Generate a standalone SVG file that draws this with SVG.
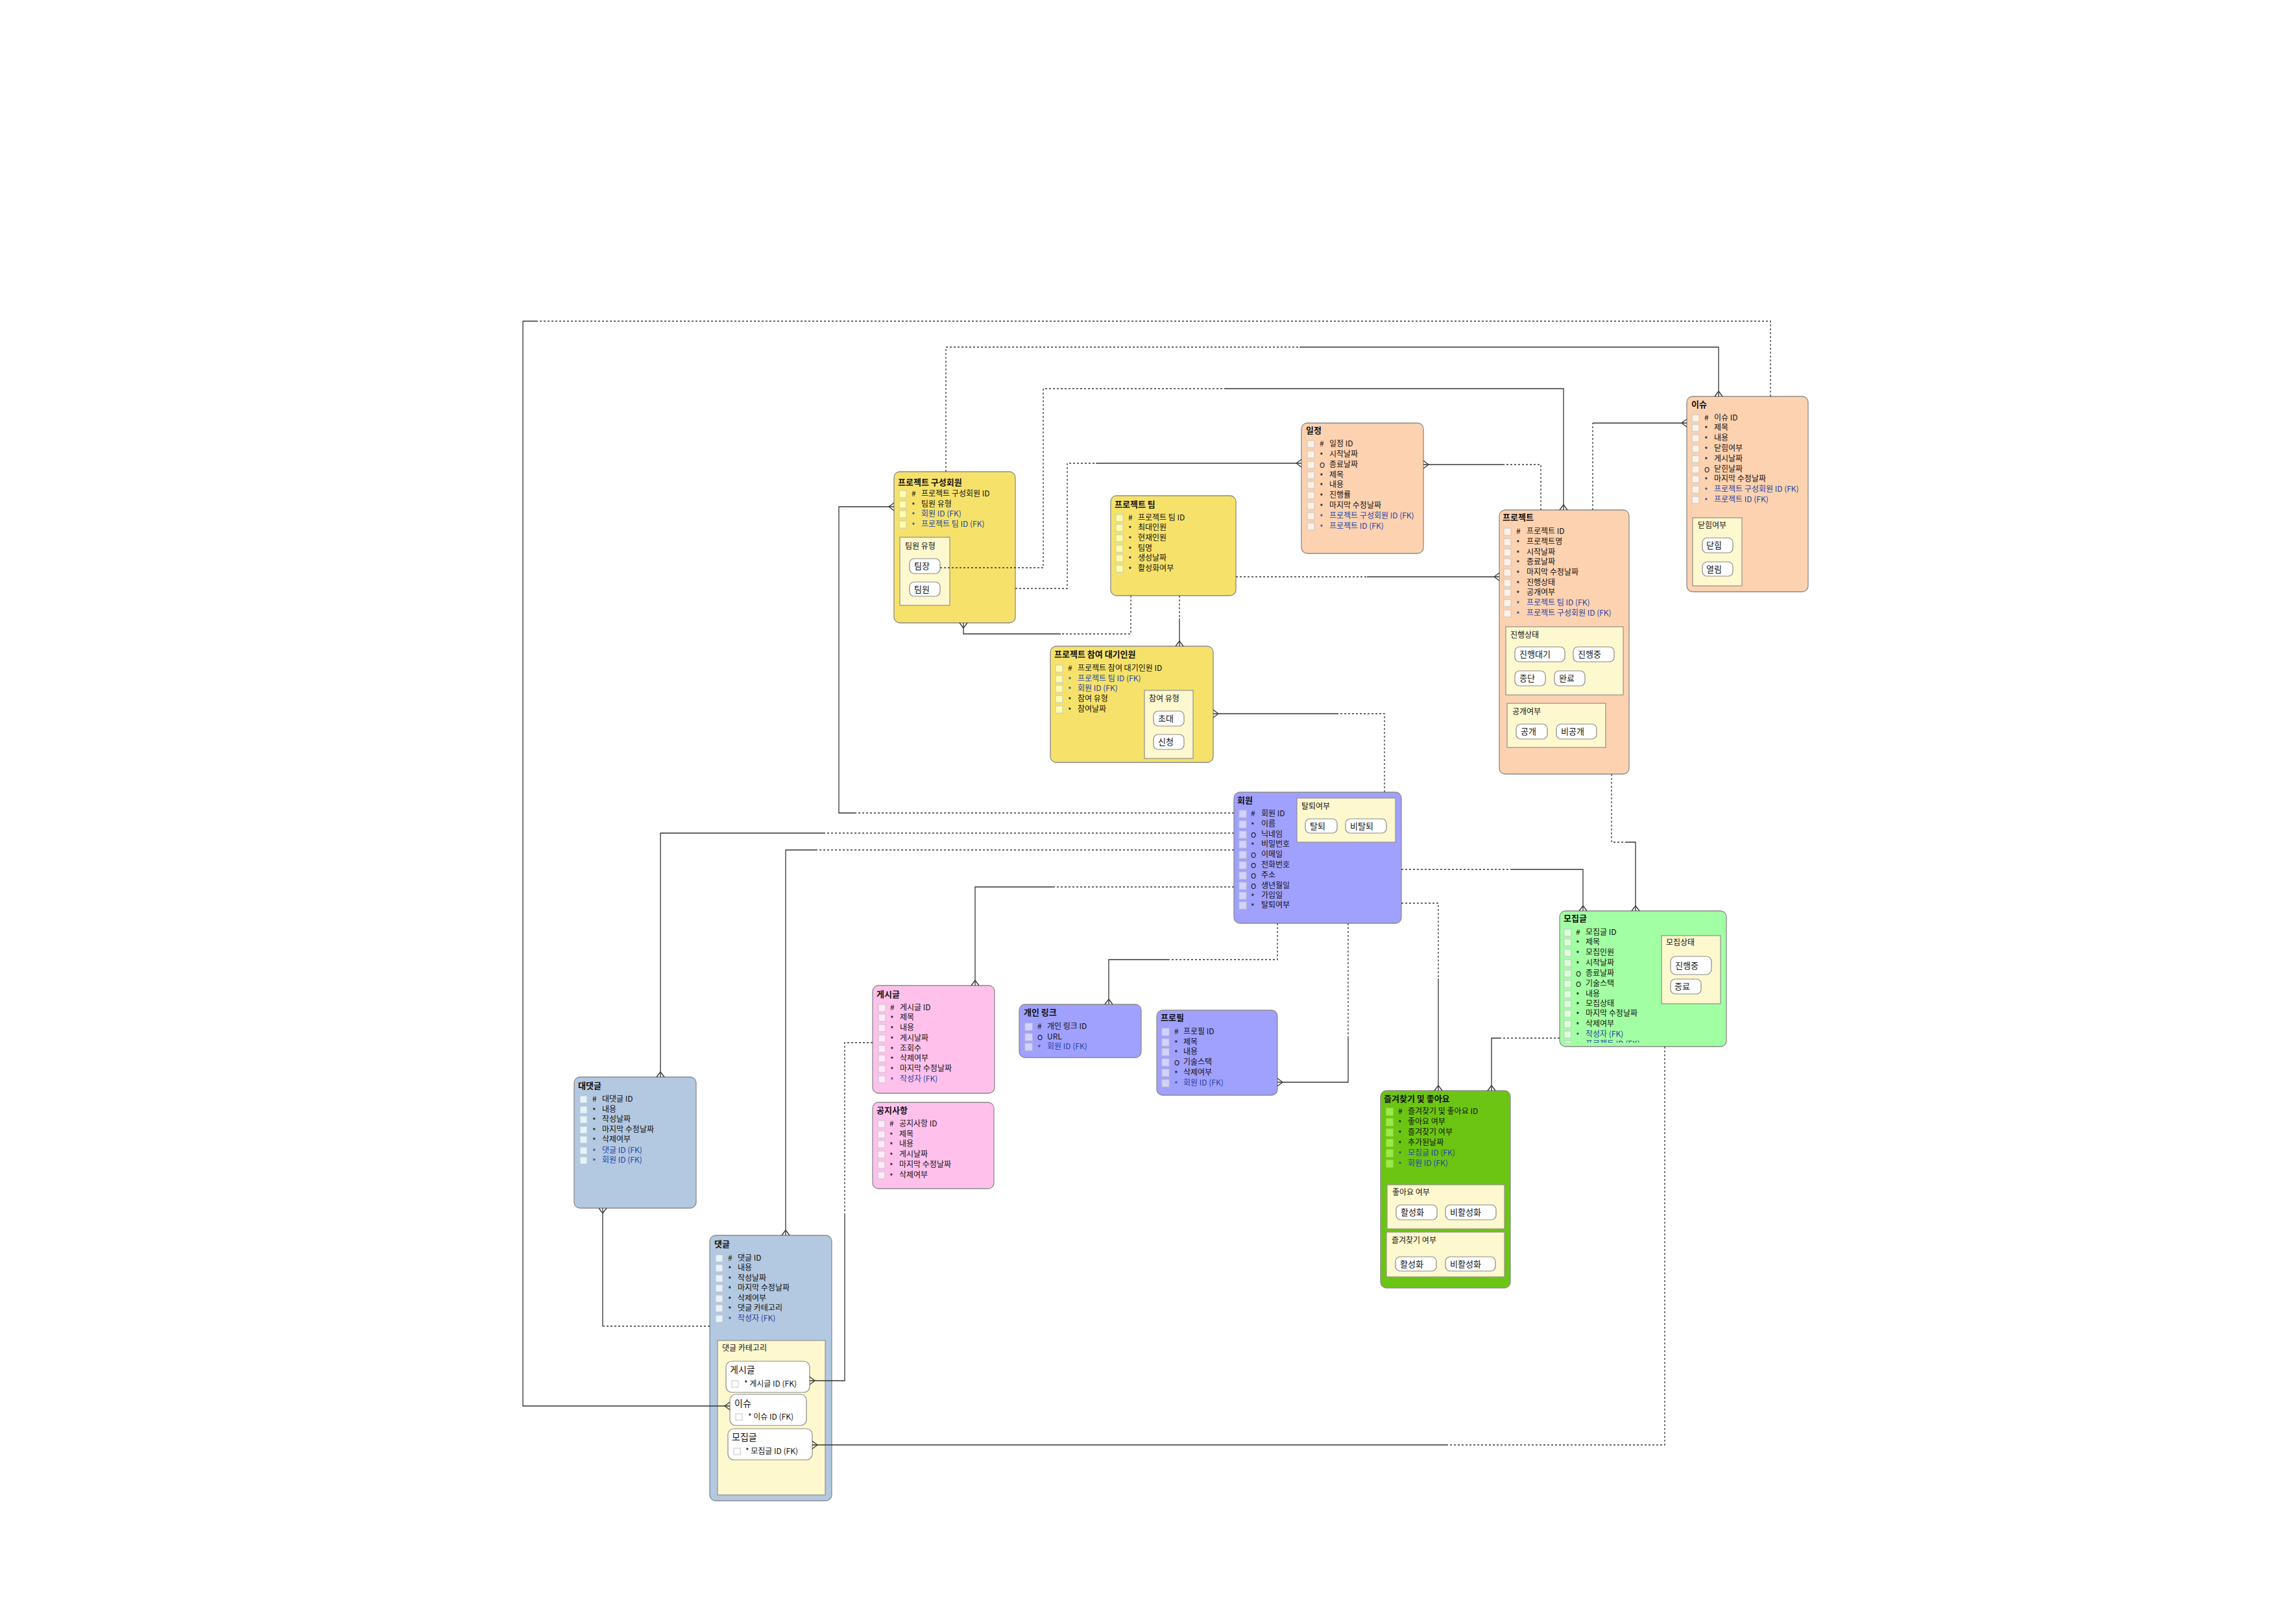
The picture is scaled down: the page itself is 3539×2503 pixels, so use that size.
<svg xmlns="http://www.w3.org/2000/svg" width="3539" height="2503" viewBox="0 0 3539 2503">
<style>
text{font-family:"Noto Sans CJK KR","Noto Sans",sans-serif;fill:#111}
.t{font-size:13px;font-weight:bold}
.r{font-size:12px}
.o{font-size:11px}
.a{transform:translateY(3px)}
.fk{fill:#2446a6}
.p{font-size:13px}
.ent{stroke:#8a8a8a;stroke-width:1.3}
.cy{fill:#F6E26B}.cp{fill:#FDD2B0}.cv{fill:#A0A0FF}.cg{fill:#A3FFA3}.ck{fill:#FFC1EC}.cb{fill:#B3C8E1}.cd{fill:#6CC512}
.sub{fill:#FEF8CE;stroke:#8f8f8f;stroke-width:1.2}
.pill{fill:#fff;stroke:#8a8a8a;stroke-width:1.2}
.bx{stroke:#c4c4c4;stroke-width:1}
.by{fill:#FFFFA8}.bp{fill:#FFF1E4}.bv{fill:#D2D2FF}.bg{fill:#DAFFDA}.bk{fill:#FFE9FA}.bb{fill:#E4F4FF}.bd{fill:#9DE84A;stroke:#9DE84A}.bw{fill:#fff}
.c path{fill:none;stroke:#333;stroke-width:1.3}
.d{stroke-dasharray:3 3}
</style>
<defs>
<marker id="cf" markerUnits="userSpaceOnUse" viewBox="-10 -8 11 16" markerWidth="11" markerHeight="16" refX="0" refY="0" orient="auto" overflow="visible">
<path d="M-8,0 L0,-6 M-8,0 L0,6" fill="none" stroke="#333" stroke-width="1.3"/>
</marker>
<clipPath id="clipMo"><rect x="2404" y="1404" width="257" height="203"/></clipPath>
</defs>

<g id="project-member">
<rect class="ent cy" x="1378" y="727" width="187" height="233" rx="9"/>
<text class="t" x="1384" y="748">프로젝트 구성회원</text>
<rect class="bx by" x="1386" y="756" width="11" height="11"/><text class="r" x="1405" y="765">#</text><text class="r" x="1420" y="765">프로젝트 구성회원 ID</text>
<rect class="bx by" x="1386" y="772" width="11" height="11"/><text class="r a" x="1405" y="781">*</text><text class="r" x="1420" y="781">팀원 유형</text>
<rect class="bx by" x="1386" y="787" width="11" height="11"/><text class="r fk a" x="1405" y="796">*</text><text class="r fk" x="1420" y="796">회원 ID (FK)</text>
<rect class="bx by" x="1386" y="803" width="11" height="11"/><text class="r fk a" x="1405" y="812">*</text><text class="r fk" x="1420" y="812">프로젝트 팀 ID (FK)</text>
<rect class="sub" x="1387" y="828" width="77" height="105"/>
<text class="r" x="1395" y="846">팀원 유형</text>
<rect class="pill" x="1402" y="861" width="47" height="23" rx="7"/><text class="p" x="1409" y="877">팀장</text>
<rect class="pill" x="1402" y="897" width="47" height="22" rx="7"/><text class="p" x="1409" y="913">팀원</text>
</g>

<g id="project-team">
<rect class="ent cy" x="1712" y="764" width="193" height="154" rx="9"/>
<text class="t" x="1718" y="782">프로젝트 팀</text>
<rect class="bx by" x="1720" y="793" width="11" height="11"/><text class="r" x="1739" y="802">#</text><text class="r" x="1754" y="802">프로젝트 팀 ID</text>
<rect class="bx by" x="1720" y="808" width="11" height="11"/><text class="r a" x="1739" y="817">*</text><text class="r" x="1754" y="817">최대인원</text>
<rect class="bx by" x="1720" y="824" width="11" height="11"/><text class="r a" x="1739" y="833">*</text><text class="r" x="1754" y="833">현재인원</text>
<rect class="bx by" x="1720" y="840" width="11" height="11"/><text class="r a" x="1739" y="849">*</text><text class="r" x="1754" y="849">팀명</text>
<rect class="bx by" x="1720" y="855" width="11" height="11"/><text class="r a" x="1739" y="864">*</text><text class="r" x="1754" y="864">생성날짜</text>
<rect class="bx by" x="1720" y="871" width="11" height="11"/><text class="r a" x="1739" y="880">*</text><text class="r" x="1754" y="880">활성화여부</text>
</g>

<g id="schedule">
<rect class="ent cp" x="2006" y="652" width="188" height="201" rx="9"/>
<text class="t" x="2013" y="668">일정</text>
<rect class="bx bp" x="2015" y="679" width="11" height="11"/><text class="r" x="2034" y="688">#</text><text class="r" x="2049" y="688">일정 ID</text>
<rect class="bx bp" x="2015" y="695" width="11" height="11"/><text class="r a" x="2034" y="704">*</text><text class="r" x="2049" y="704">시작날짜</text>
<rect class="bx bp" x="2015" y="711" width="11" height="11"/><text class="o" x="2034" y="721">O</text><text class="r" x="2049" y="720">종료날짜</text>
<rect class="bx bp" x="2015" y="727" width="11" height="11"/><text class="r a" x="2034" y="736">*</text><text class="r" x="2049" y="736">제목</text>
<rect class="bx bp" x="2015" y="742" width="11" height="11"/><text class="r a" x="2034" y="751">*</text><text class="r" x="2049" y="751">내용</text>
<rect class="bx bp" x="2015" y="758" width="11" height="11"/><text class="r a" x="2034" y="767">*</text><text class="r" x="2049" y="767">진행률</text>
<rect class="bx bp" x="2015" y="774" width="11" height="11"/><text class="r a" x="2034" y="783">*</text><text class="r" x="2049" y="783">마지막 수정날짜</text>
<rect class="bx bp" x="2015" y="790" width="11" height="11"/><text class="r fk a" x="2034" y="799">*</text><text class="r fk" x="2049" y="799">프로젝트 구성회원 ID (FK)</text>
<rect class="bx bp" x="2015" y="806" width="11" height="11"/><text class="r fk a" x="2034" y="815">*</text><text class="r fk" x="2049" y="815">프로젝트 ID (FK)</text>
</g>

<g id="issue">
<rect class="ent cp" x="2600" y="611" width="187" height="301" rx="9"/>
<text class="t" x="2607" y="628">이슈</text>
<rect class="bx bp" x="2608" y="639" width="11" height="11"/><text class="r" x="2627" y="648">#</text><text class="r" x="2642" y="648">이슈 ID</text>
<rect class="bx bp" x="2608" y="654" width="11" height="11"/><text class="r a" x="2627" y="663">*</text><text class="r" x="2642" y="663">제목</text>
<rect class="bx bp" x="2608" y="670" width="11" height="11"/><text class="r a" x="2627" y="679">*</text><text class="r" x="2642" y="679">내용</text>
<rect class="bx bp" x="2608" y="686" width="11" height="11"/><text class="r a" x="2627" y="695">*</text><text class="r" x="2642" y="695">닫힘여부</text>
<rect class="bx bp" x="2608" y="702" width="11" height="11"/><text class="r a" x="2627" y="711">*</text><text class="r" x="2642" y="711">게시날짜</text>
<rect class="bx bp" x="2608" y="718" width="11" height="11"/><text class="o" x="2627" y="728">O</text><text class="r" x="2642" y="727">닫힌날짜</text>
<rect class="bx bp" x="2608" y="733" width="11" height="11"/><text class="r a" x="2627" y="742">*</text><text class="r" x="2642" y="742">마지막 수정날짜</text>
<rect class="bx bp" x="2608" y="749" width="11" height="11"/><text class="r fk a" x="2627" y="758">*</text><text class="r fk" x="2642" y="758">프로젝트 구성회원 ID (FK)</text>
<rect class="bx bp" x="2608" y="765" width="11" height="11"/><text class="r fk a" x="2627" y="774">*</text><text class="r fk" x="2642" y="774">프로젝트 ID (FK)</text>
<rect class="sub" x="2609" y="798" width="76" height="105"/>
<text class="r" x="2617" y="814">닫힘여부</text>
<rect class="pill" x="2624" y="829" width="47" height="23" rx="7"/><text class="p" x="2630" y="845">닫힘</text>
<rect class="pill" x="2624" y="866" width="47" height="22" rx="7"/><text class="p" x="2630" y="882">열림</text>
</g>

<g id="project">
<rect class="ent cp" x="2311" y="786" width="200" height="407" rx="9"/>
<text class="t" x="2316" y="802">프로젝트</text>
<rect class="bx bp" x="2318" y="814" width="11" height="11"/><text class="r" x="2337" y="823">#</text><text class="r" x="2353" y="823">프로젝트 ID</text>
<rect class="bx bp" x="2318" y="830" width="11" height="11"/><text class="r a" x="2337" y="839">*</text><text class="r" x="2353" y="839">프로젝트명</text>
<rect class="bx bp" x="2318" y="846" width="11" height="11"/><text class="r a" x="2337" y="855">*</text><text class="r" x="2353" y="855">시작날짜</text>
<rect class="bx bp" x="2318" y="861" width="11" height="11"/><text class="r a" x="2337" y="870">*</text><text class="r" x="2353" y="870">종료날짜</text>
<rect class="bx bp" x="2318" y="877" width="11" height="11"/><text class="r a" x="2337" y="886">*</text><text class="r" x="2353" y="886">마지막 수정날짜</text>
<rect class="bx bp" x="2318" y="893" width="11" height="11"/><text class="r a" x="2337" y="902">*</text><text class="r" x="2353" y="902">진행상태</text>
<rect class="bx bp" x="2318" y="908" width="11" height="11"/><text class="r a" x="2337" y="917">*</text><text class="r" x="2353" y="917">공개여부</text>
<rect class="bx bp" x="2318" y="924" width="11" height="11"/><text class="r fk a" x="2337" y="933">*</text><text class="r fk" x="2353" y="933">프로젝트 팀 ID (FK)</text>
<rect class="bx bp" x="2318" y="940" width="11" height="11"/><text class="r fk a" x="2337" y="949">*</text><text class="r fk" x="2353" y="949">프로젝트 구성회원 ID (FK)</text>
<rect class="sub" x="2321" y="966" width="181" height="105"/>
<text class="r" x="2328" y="983">진행상태</text>
<rect class="pill" x="2335" y="997" width="77" height="23" rx="7"/><text class="p" x="2342" y="1013">진행대기</text>
<rect class="pill" x="2425" y="997" width="63" height="23" rx="7"/><text class="p" x="2432" y="1013">진행중</text>
<rect class="pill" x="2335" y="1034" width="47" height="23" rx="7"/><text class="p" x="2342" y="1050">종단</text>
<rect class="pill" x="2396" y="1034" width="47" height="23" rx="7"/><text class="p" x="2403" y="1050">완료</text>
<rect class="sub" x="2323" y="1084" width="152" height="68"/>
<text class="r" x="2331" y="1101">공개여부</text>
<rect class="pill" x="2337" y="1116" width="48" height="23" rx="7"/><text class="p" x="2344" y="1132">공개</text>
<rect class="pill" x="2399" y="1116" width="62" height="23" rx="7"/><text class="p" x="2406" y="1132">비공개</text>
</g>

<g id="project-waiting">
<rect class="ent cy" x="1619" y="996" width="251" height="179" rx="9"/>
<text class="t" x="1625" y="1013">프로젝트 참여 대기인원</text>
<rect class="bx by" x="1627" y="1025" width="11" height="11"/><text class="r" x="1646" y="1034">#</text><text class="r" x="1661" y="1034">프로젝트 참여 대기인원 ID</text>
<rect class="bx by" x="1627" y="1041" width="11" height="11"/><text class="r fk a" x="1646" y="1050">*</text><text class="r fk" x="1661" y="1050">프로젝트 팀 ID (FK)</text>
<rect class="bx by" x="1627" y="1056" width="11" height="11"/><text class="r fk a" x="1646" y="1065">*</text><text class="r fk" x="1661" y="1065">회원 ID (FK)</text>
<rect class="bx by" x="1627" y="1072" width="11" height="11"/><text class="r a" x="1646" y="1081">*</text><text class="r" x="1661" y="1081">참여 유형</text>
<rect class="bx by" x="1627" y="1088" width="11" height="11"/><text class="r a" x="1646" y="1097">*</text><text class="r" x="1661" y="1097">참여날짜</text>
<rect class="sub" x="1764" y="1064" width="75" height="105"/>
<text class="r" x="1771" y="1081">참여 유형</text>
<rect class="pill" x="1778" y="1096" width="47" height="23" rx="7"/><text class="p" x="1785" y="1112">초대</text>
<rect class="pill" x="1778" y="1132" width="47" height="23" rx="7"/><text class="p" x="1785" y="1148">신청</text>
</g>

<g id="member">
<rect class="ent cv" x="1902" y="1221" width="258" height="202" rx="9"/>
<text class="t" x="1907" y="1238">회원</text>
<rect class="bx bv" x="1910" y="1249" width="11" height="11"/><text class="r" x="1928" y="1258">#</text><text class="r" x="1944" y="1258">회원 ID</text>
<rect class="bx bv" x="1910" y="1265" width="11" height="11"/><text class="r a" x="1928" y="1274">*</text><text class="r" x="1944" y="1274">이름</text>
<rect class="bx bv" x="1910" y="1281" width="11" height="11"/><text class="o" x="1928" y="1291">O</text><text class="r" x="1944" y="1290">닉네임</text>
<rect class="bx bv" x="1910" y="1296" width="11" height="11"/><text class="r a" x="1928" y="1305">*</text><text class="r" x="1944" y="1305">비밀번호</text>
<rect class="bx bv" x="1910" y="1312" width="11" height="11"/><text class="o" x="1928" y="1322">O</text><text class="r" x="1944" y="1321">이메일</text>
<rect class="bx bv" x="1910" y="1328" width="11" height="11"/><text class="o" x="1928" y="1338">O</text><text class="r" x="1944" y="1337">전화번호</text>
<rect class="bx bv" x="1910" y="1344" width="11" height="11"/><text class="o" x="1928" y="1354">O</text><text class="r" x="1944" y="1353">주소</text>
<rect class="bx bv" x="1910" y="1360" width="11" height="11"/><text class="o" x="1928" y="1370">O</text><text class="r" x="1944" y="1369">생년월일</text>
<rect class="bx bv" x="1910" y="1375" width="11" height="11"/><text class="r a" x="1928" y="1384">*</text><text class="r" x="1944" y="1384">가입일</text>
<rect class="bx bv" x="1910" y="1390" width="11" height="11"/><text class="r a" x="1928" y="1399">*</text><text class="r" x="1944" y="1399">탈퇴여부</text>
<rect class="sub" x="1999" y="1230" width="152" height="68"/>
<text class="r" x="2006" y="1247">탈퇴여부</text>
<rect class="pill" x="2012" y="1262" width="49" height="22" rx="7"/><text class="p" x="2019" y="1278">탈퇴</text>
<rect class="pill" x="2074" y="1262" width="63" height="22" rx="7"/><text class="p" x="2081" y="1278">비탈퇴</text>
</g>

<g id="recruit">
<rect class="ent cg" x="2404" y="1404" width="257" height="209" rx="9"/>
<text class="t" x="2410" y="1420">모집글</text>
<g clip-path="url(#clipMo)">
<rect class="bx bg" x="2411" y="1432" width="11" height="11"/><text class="r" x="2429" y="1441">#</text><text class="r" x="2444" y="1441">모집글 ID</text>
<rect class="bx bg" x="2411" y="1447" width="11" height="11"/><text class="r a" x="2429" y="1456">*</text><text class="r" x="2444" y="1456">제목</text>
<rect class="bx bg" x="2411" y="1463" width="11" height="11"/><text class="r a" x="2429" y="1472">*</text><text class="r" x="2444" y="1472">모집인원</text>
<rect class="bx bg" x="2411" y="1479" width="11" height="11"/><text class="r a" x="2429" y="1488">*</text><text class="r" x="2444" y="1488">시작날짜</text>
<rect class="bx bg" x="2411" y="1495" width="11" height="11"/><text class="o" x="2429" y="1505">O</text><text class="r" x="2444" y="1504">종료날짜</text>
<rect class="bx bg" x="2411" y="1511" width="11" height="11"/><text class="o" x="2429" y="1521">O</text><text class="r" x="2444" y="1520">기술스택</text>
<rect class="bx bg" x="2411" y="1527" width="11" height="11"/><text class="r a" x="2429" y="1536">*</text><text class="r" x="2444" y="1536">내용</text>
<rect class="bx bg" x="2411" y="1542" width="11" height="11"/><text class="r a" x="2429" y="1551">*</text><text class="r" x="2444" y="1551">모집상태</text>
<rect class="bx bg" x="2411" y="1557" width="11" height="11"/><text class="r a" x="2429" y="1566">*</text><text class="r" x="2444" y="1566">마지막 수정날짜</text>
<rect class="bx bg" x="2411" y="1573" width="11" height="11"/><text class="r a" x="2429" y="1582">*</text><text class="r" x="2444" y="1582">삭제여부</text>
<rect class="bx bg" x="2411" y="1589" width="11" height="11"/><text class="r fk a" x="2429" y="1598">*</text><text class="r fk" x="2444" y="1598">작성자 (FK)</text>
<rect class="bx bg" x="2411" y="1604" width="11" height="11"/><text class="r fk a" x="2429" y="1613">*</text><text class="r fk" x="2444" y="1613">프로젝트 ID (FK)</text>
</g>
<rect class="sub" x="2561" y="1442" width="91" height="105"/>
<text class="r" x="2568" y="1457">모집상태</text>
<rect class="pill" x="2575" y="1474" width="63" height="28" rx="8"/><text class="p" x="2582" y="1493">진행중</text>
<rect class="pill" x="2575" y="1509" width="47" height="23" rx="7"/><text class="p" x="2581" y="1525">종료</text>
</g>

<g id="post">
<rect class="ent ck" x="1345" y="1519" width="188" height="166" rx="9"/>
<text class="t" x="1351" y="1537">게시글</text>
<rect class="bx bk" x="1354" y="1548" width="11" height="11"/><text class="r" x="1372" y="1557">#</text><text class="r" x="1387" y="1557">게시글 ID</text>
<rect class="bx bk" x="1354" y="1563" width="11" height="11"/><text class="r a" x="1372" y="1572">*</text><text class="r" x="1387" y="1572">제목</text>
<rect class="bx bk" x="1354" y="1579" width="11" height="11"/><text class="r a" x="1372" y="1588">*</text><text class="r" x="1387" y="1588">내용</text>
<rect class="bx bk" x="1354" y="1595" width="11" height="11"/><text class="r a" x="1372" y="1604">*</text><text class="r" x="1387" y="1604">게시날짜</text>
<rect class="bx bk" x="1354" y="1611" width="11" height="11"/><text class="r a" x="1372" y="1620">*</text><text class="r" x="1387" y="1620">조회수</text>
<rect class="bx bk" x="1354" y="1626" width="11" height="11"/><text class="r a" x="1372" y="1635">*</text><text class="r" x="1387" y="1635">삭제여부</text>
<rect class="bx bk" x="1354" y="1642" width="11" height="11"/><text class="r a" x="1372" y="1651">*</text><text class="r" x="1387" y="1651">마지막 수정날짜</text>
<rect class="bx bk" x="1354" y="1658" width="11" height="11"/><text class="r fk a" x="1372" y="1667">*</text><text class="r fk" x="1387" y="1667">작성자 (FK)</text>
</g>

<g id="notice">
<rect class="ent ck" x="1345" y="1699" width="187" height="133" rx="9"/>
<text class="t" x="1351" y="1716">공지사항</text>
<rect class="bx bk" x="1353" y="1727" width="11" height="11"/><text class="r" x="1371" y="1736">#</text><text class="r" x="1386" y="1736">공지사항 ID</text>
<rect class="bx bk" x="1353" y="1743" width="11" height="11"/><text class="r a" x="1371" y="1752">*</text><text class="r" x="1386" y="1752">제목</text>
<rect class="bx bk" x="1353" y="1758" width="11" height="11"/><text class="r a" x="1371" y="1767">*</text><text class="r" x="1386" y="1767">내용</text>
<rect class="bx bk" x="1353" y="1774" width="11" height="11"/><text class="r a" x="1371" y="1783">*</text><text class="r" x="1386" y="1783">게시날짜</text>
<rect class="bx bk" x="1353" y="1790" width="11" height="11"/><text class="r a" x="1371" y="1799">*</text><text class="r" x="1386" y="1799">마지막 수정날짜</text>
<rect class="bx bk" x="1353" y="1806" width="11" height="11"/><text class="r a" x="1371" y="1815">*</text><text class="r" x="1386" y="1815">삭제여부</text>
</g>

<g id="personal-link">
<rect class="ent cv" x="1571" y="1548" width="188" height="82" rx="9"/>
<text class="t" x="1578" y="1565">개인 링크</text>
<rect class="bx bv" x="1580" y="1577" width="11" height="11"/><text class="r" x="1599" y="1586">#</text><text class="r" x="1614" y="1586">개인 링크 ID</text>
<rect class="bx bv" x="1580" y="1593" width="11" height="11"/><text class="o" x="1599" y="1603">O</text><text class="r" x="1614" y="1602">URL</text>
<rect class="bx bv" x="1580" y="1608" width="11" height="11"/><text class="r fk a" x="1599" y="1617">*</text><text class="r fk" x="1614" y="1617">회원 ID (FK)</text>
</g>

<g id="profile">
<rect class="ent cv" x="1783" y="1557" width="186" height="131" rx="9"/>
<text class="t" x="1789" y="1573">프로필</text>
<rect class="bx bv" x="1791" y="1585" width="11" height="11"/><text class="r" x="1810" y="1594">#</text><text class="r" x="1824" y="1594">프로필 ID</text>
<rect class="bx bv" x="1791" y="1601" width="11" height="11"/><text class="r a" x="1810" y="1610">*</text><text class="r" x="1824" y="1610">제목</text>
<rect class="bx bv" x="1791" y="1616" width="11" height="11"/><text class="r a" x="1810" y="1625">*</text><text class="r" x="1824" y="1625">내용</text>
<rect class="bx bv" x="1791" y="1632" width="11" height="11"/><text class="o" x="1810" y="1642">O</text><text class="r" x="1824" y="1641">기술스택</text>
<rect class="bx bv" x="1791" y="1648" width="11" height="11"/><text class="r a" x="1810" y="1657">*</text><text class="r" x="1824" y="1657">삭제여부</text>
<rect class="bx bv" x="1791" y="1664" width="11" height="11"/><text class="r fk a" x="1810" y="1673">*</text><text class="r fk" x="1824" y="1673">회원 ID (FK)</text>
</g>

<g id="reply">
<rect class="ent cb" x="885" y="1660" width="188" height="202" rx="9"/>
<text class="t" x="891" y="1678">대댓글</text>
<rect class="bx bb" x="894" y="1689" width="11" height="11"/><text class="r" x="913" y="1698">#</text><text class="r" x="928" y="1698">대댓글 ID</text>
<rect class="bx bb" x="894" y="1705" width="11" height="11"/><text class="r a" x="913" y="1714">*</text><text class="r" x="928" y="1714">내용</text>
<rect class="bx bb" x="894" y="1720" width="11" height="11"/><text class="r a" x="913" y="1729">*</text><text class="r" x="928" y="1729">작성날짜</text>
<rect class="bx bb" x="894" y="1736" width="11" height="11"/><text class="r a" x="913" y="1745">*</text><text class="r" x="928" y="1745">마지막 수정날짜</text>
<rect class="bx bb" x="894" y="1751" width="11" height="11"/><text class="r a" x="913" y="1760">*</text><text class="r" x="928" y="1760">삭제여부</text>
<rect class="bx bb" x="894" y="1768" width="11" height="11"/><text class="r fk a" x="913" y="1777">*</text><text class="r fk" x="928" y="1777">댓글 ID (FK)</text>
<rect class="bx bb" x="894" y="1783" width="11" height="11"/><text class="r fk a" x="913" y="1792">*</text><text class="r fk" x="928" y="1792">회원 ID (FK)</text>
</g>

<g id="comment">
<rect class="ent cb" x="1094" y="1904" width="188" height="409" rx="9"/>
<text class="t" x="1101" y="1922">댓글</text>
<rect class="bx bb" x="1103" y="1934" width="11" height="11"/><text class="r" x="1122" y="1943">#</text><text class="r" x="1137" y="1943">댓글 ID</text>
<rect class="bx bb" x="1103" y="1949" width="11" height="11"/><text class="r a" x="1122" y="1958">*</text><text class="r" x="1137" y="1958">내용</text>
<rect class="bx bb" x="1103" y="1965" width="11" height="11"/><text class="r a" x="1122" y="1974">*</text><text class="r" x="1137" y="1974">작성날짜</text>
<rect class="bx bb" x="1103" y="1980" width="11" height="11"/><text class="r a" x="1122" y="1989">*</text><text class="r" x="1137" y="1989">마지막 수정날짜</text>
<rect class="bx bb" x="1103" y="1996" width="11" height="11"/><text class="r a" x="1122" y="2005">*</text><text class="r" x="1137" y="2005">삭제여부</text>
<rect class="bx bb" x="1103" y="2011" width="11" height="11"/><text class="r a" x="1122" y="2020">*</text><text class="r" x="1137" y="2020">댓글 카테고리</text>
<rect class="bx bb" x="1103" y="2027" width="11" height="11"/><text class="r fk a" x="1122" y="2036">*</text><text class="r fk" x="1137" y="2036">작성자 (FK)</text>
<rect class="sub" x="1106" y="2066" width="166" height="238"/>
<text class="r" x="1113" y="2082">댓글 카테고리</text>
<rect class="pill" x="1119" y="2098" width="129" height="48" rx="9"/>
<text class="p" x="1125" y="2116" style="font-size:14px">게시글</text>
<rect class="bx bw" x="1128" y="2128" width="10" height="10"/><text class="r" x="1147" y="2137">* 게시글 ID (FK)</text>
<rect class="pill" x="1125" y="2149" width="118" height="48" rx="9"/>
<text class="p" x="1132" y="2168" style="font-size:14px">이슈</text>
<rect class="bx bw" x="1134" y="2179" width="10" height="10"/><text class="r" x="1153" y="2188">* 이슈 ID (FK)</text>
<rect class="pill" x="1122" y="2202" width="130" height="48" rx="9"/>
<text class="p" x="1128" y="2220" style="font-size:14px">모집글</text>
<rect class="bx bw" x="1131" y="2232" width="10" height="10"/><text class="r" x="1149" y="2241">* 모집글 ID (FK)</text>
</g>

<g id="favorite-like">
<rect class="ent cd" x="2128" y="1681" width="200" height="304" rx="9"/>
<text class="t" x="2133" y="1698">즐겨찾기 및 좋아요</text>
<rect class="bx bd" x="2137" y="1708" width="10" height="11"/><text class="r" x="2155" y="1717">#</text><text class="r" x="2170" y="1717">즐겨찾기 및 좋아요 ID</text>
<rect class="bx bd" x="2137" y="1724" width="10" height="11"/><text class="r a" x="2155" y="1733">*</text><text class="r" x="2170" y="1733">좋아요 여부</text>
<rect class="bx bd" x="2137" y="1740" width="10" height="11"/><text class="r a" x="2155" y="1749">*</text><text class="r" x="2170" y="1749">즐겨찾기 여부</text>
<rect class="bx bd" x="2137" y="1756" width="10" height="11"/><text class="r a" x="2155" y="1765">*</text><text class="r" x="2170" y="1765">추가된날짜</text>
<rect class="bx bd" x="2137" y="1772" width="10" height="11"/><text class="r fk a" x="2155" y="1781">*</text><text class="r fk" x="2170" y="1781">모집글 ID (FK)</text>
<rect class="bx bd" x="2137" y="1788" width="10" height="11"/><text class="r fk a" x="2155" y="1797">*</text><text class="r fk" x="2170" y="1797">회원 ID (FK)</text>
<rect class="sub" x="2138" y="1826" width="181" height="68"/>
<text class="r" x="2146" y="1842">좋아요 여부</text>
<rect class="pill" x="2152" y="1857" width="63" height="23" rx="7"/><text class="p" x="2159" y="1873">활성화</text>
<rect class="pill" x="2228" y="1857" width="78" height="23" rx="7"/><text class="p" x="2235" y="1873">비활성화</text>
<rect class="sub" x="2137" y="1899" width="182" height="69"/>
<text class="r" x="2145" y="1916">즐겨찾기 여부</text>
<rect class="pill" x="2151" y="1937" width="63" height="22" rx="7"/><text class="p" x="2158" y="1953">활성화</text>
<rect class="pill" x="2228" y="1937" width="77" height="22" rx="7"/><text class="p" x="2235" y="1953">비활성화</text>
</g>

<g id="connectors" class="c">
<path class="d" d="M2729,611 V495 H828"/>
<path d="M828,495 H806 V2167 H1125" marker-end="url(#cf)"/>
<path class="d" d="M1458,727 V535 H2003"/>
<path d="M2003,535 H2649 V611" marker-end="url(#cf)"/>
<path class="d" d="M1449,875 H1608 V599 H1890"/>
<path d="M1890,599 H2410 V786" marker-end="url(#cf)"/>
<path class="d" d="M1565,907 H1645 V714 H1689"/>
<path d="M1689,714 H2006" marker-end="url(#cf)"/>
<path class="d" d="M2375,786 V716 H2319"/>
<path d="M2319,716 H2194" marker-end="url(#cf)"/>
<path class="d" d="M2455,786 V652"/>
<path d="M2455,652 H2600" marker-end="url(#cf)"/>
<path class="d" d="M1905,889 H2107"/>
<path d="M2107,889 H2311" marker-end="url(#cf)"/>
<path class="d" d="M1743,918 V977 H1635"/>
<path d="M1635,977 H1485 V960" marker-end="url(#cf)"/>
<path class="d" d="M1818,918 V953"/>
<path d="M1818,953 V996" marker-end="url(#cf)"/>
<path class="d" d="M2134,1221 V1100 H2062"/>
<path d="M2062,1100 H1870" marker-end="url(#cf)"/>
<path class="d" d="M1902,1253 H1319"/>
<path d="M1319,1253 H1293 V781 H1378" marker-end="url(#cf)"/>
<path class="d" d="M1902,1284 H1271"/>
<path d="M1271,1284 H1018 V1660" marker-end="url(#cf)"/>
<path class="d" d="M1902,1310 H1259"/>
<path d="M1259,1310 H1211 V1904" marker-end="url(#cf)"/>
<path class="d" d="M1902,1367 H1625"/>
<path d="M1625,1367 H1503 V1519" marker-end="url(#cf)"/>
<path class="d" d="M1969,1423 V1479 H1800"/>
<path d="M1800,1479 H1709 V1548" marker-end="url(#cf)"/>
<path class="d" d="M2078,1423 V1597"/>
<path d="M2078,1597 V1668 H1969" marker-end="url(#cf)"/>
<path class="d" d="M2160,1340 H2331"/>
<path d="M2331,1340 H2440 V1404" marker-end="url(#cf)"/>
<path class="d" d="M2160,1392 H2217 V1508"/>
<path d="M2217,1508 V1681" marker-end="url(#cf)"/>
<path class="d" d="M2484,1193 V1298 H2505"/>
<path d="M2505,1298 H2521 V1404" marker-end="url(#cf)"/>
<path class="d" d="M2404,1600 H2313"/>
<path d="M2313,1600 H2299 V1681" marker-end="url(#cf)"/>
<path class="d" d="M2566,1613 V2227 H2230"/>
<path d="M2230,2227 H1252" marker-end="url(#cf)"/>
<path class="d" d="M1345,1607 H1302 V1870"/>
<path d="M1302,1870 V2128 H1248" marker-end="url(#cf)"/>
<path class="d" d="M1094,2044 H929"/>
<path d="M929,2044 V1862" marker-end="url(#cf)"/>
</g>
</svg>
